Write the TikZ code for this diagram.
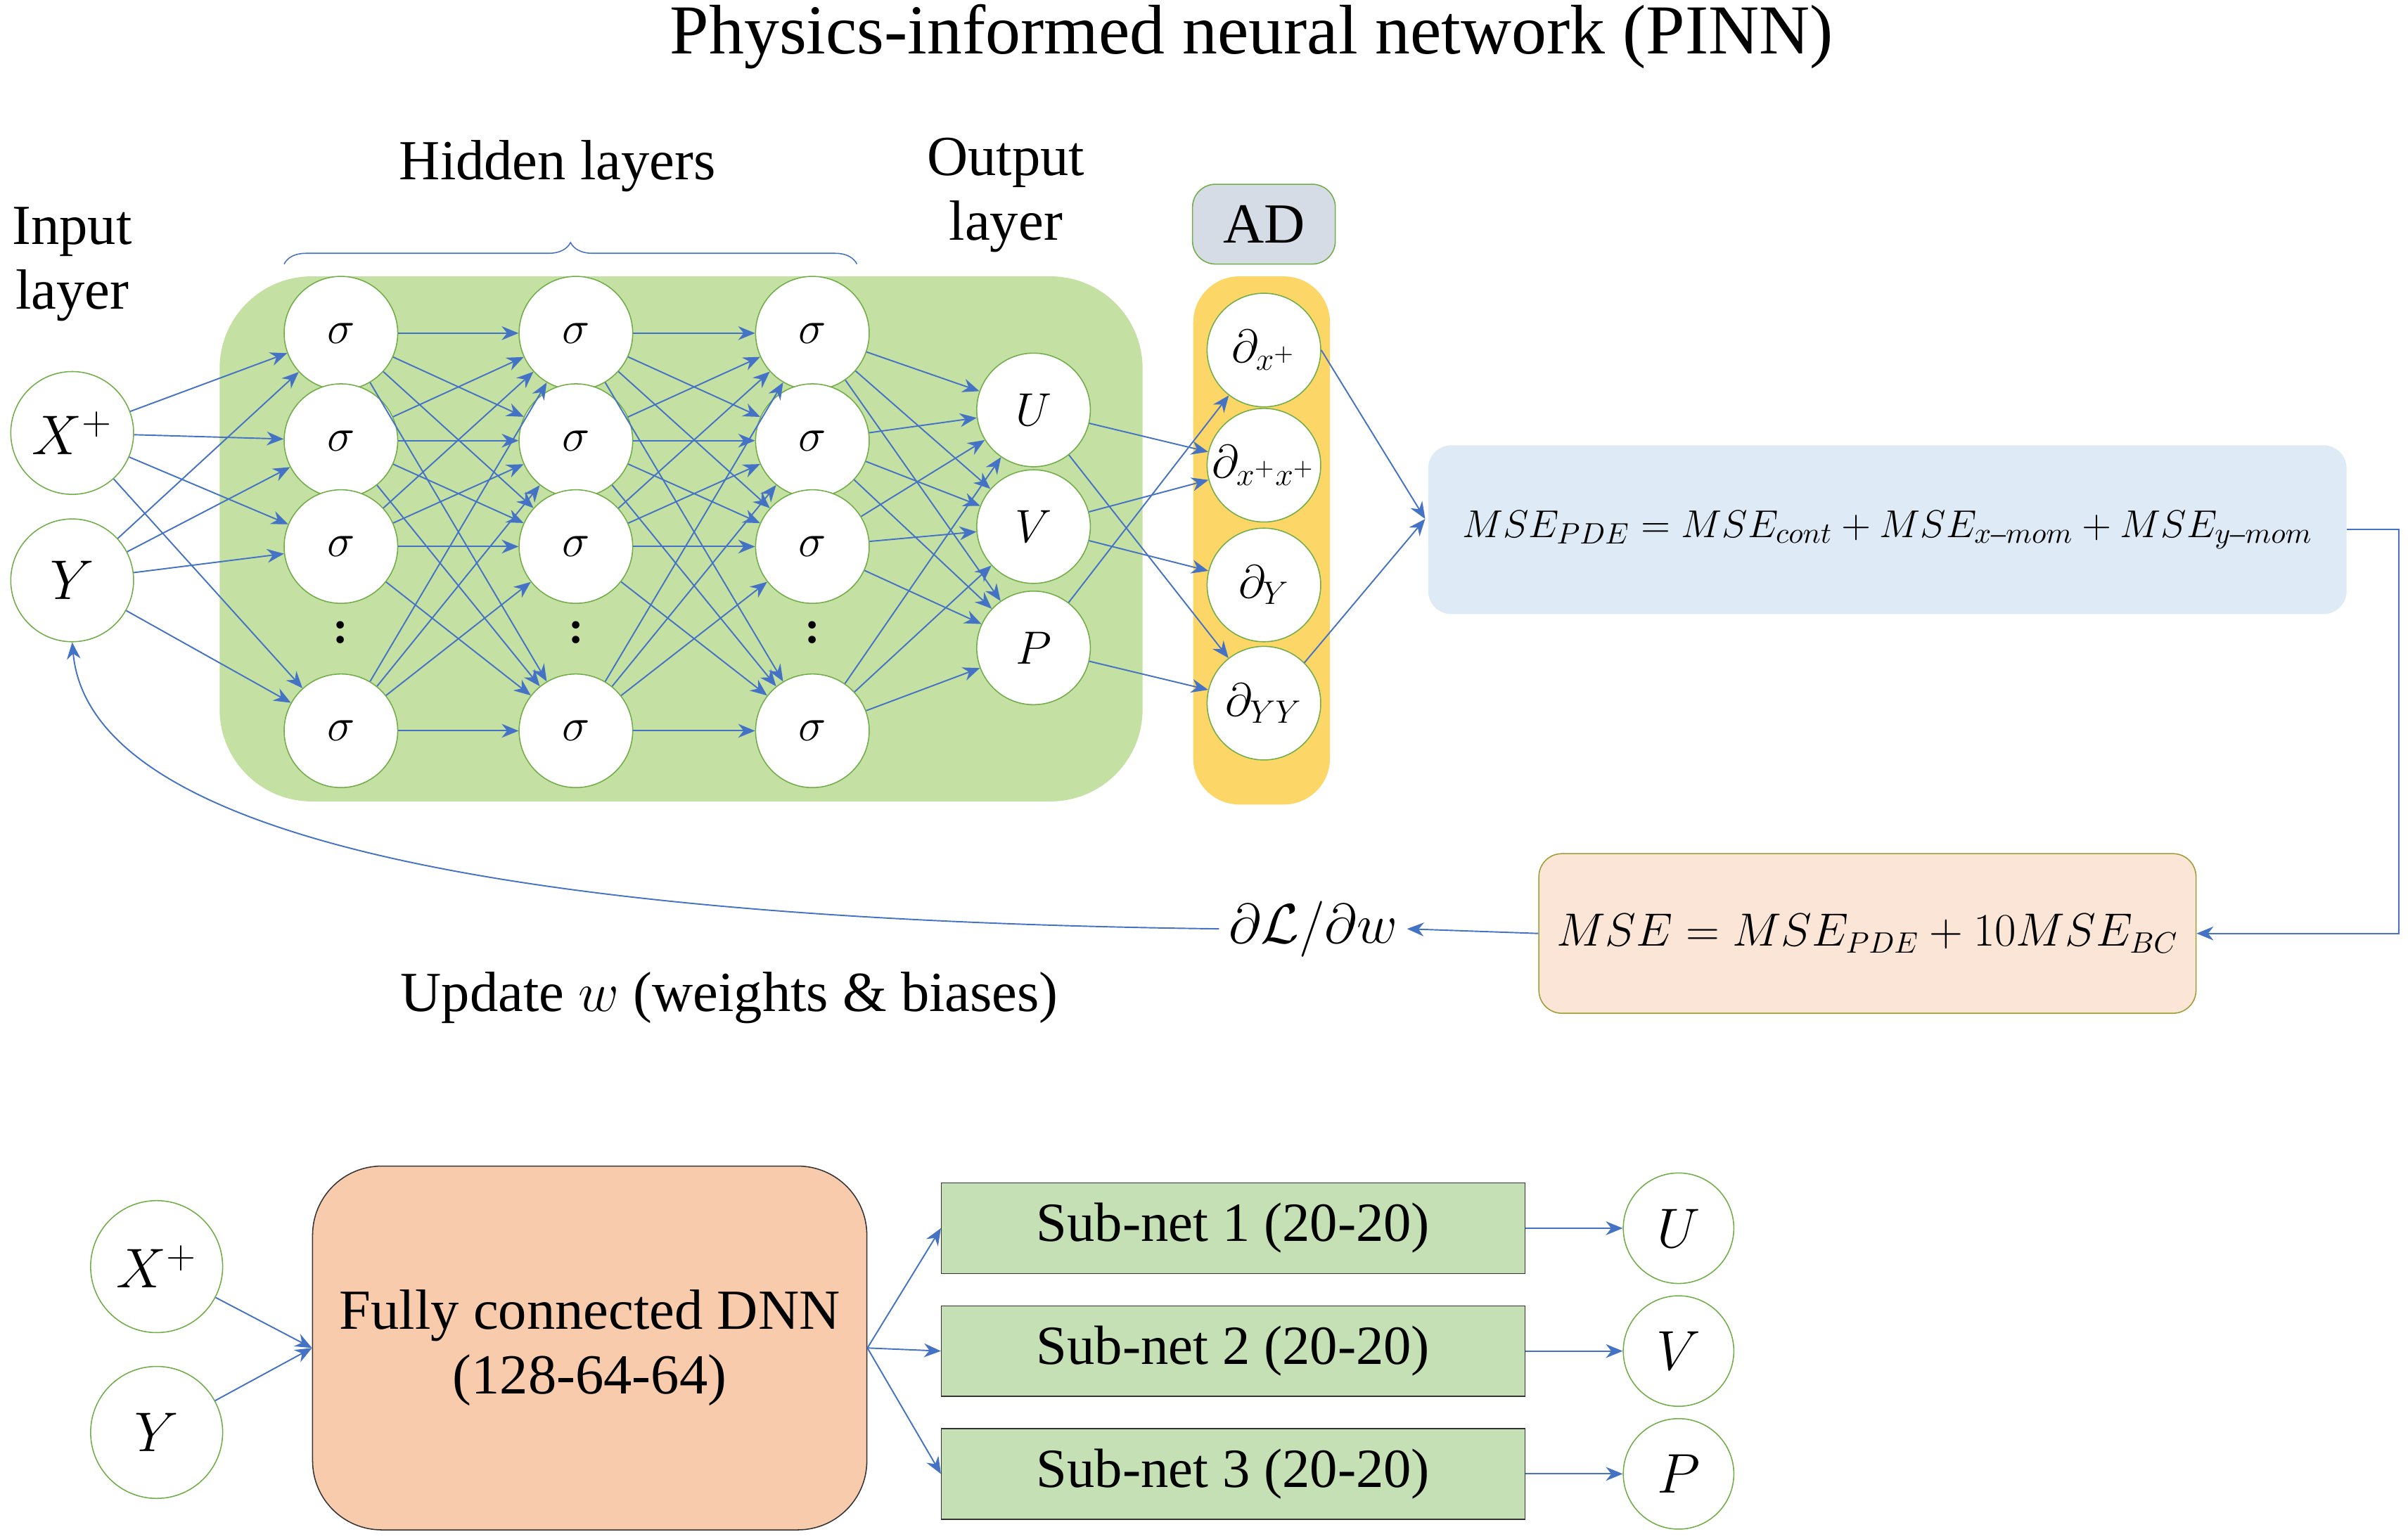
\documentclass[tikz,border=0pt]{standalone}
\usepackage{fontspec}
\setmainfont{Liberation Serif}
\usepackage{amsmath,amssymb}
\usetikzlibrary{positioning,arrows.meta,decorations.pathreplacing}
\definecolor{netgreen}{HTML}{C5E0A3}
\definecolor{adyellow}{HTML}{FDD668}
\definecolor{adgrey}{HTML}{D6DCE5}
\definecolor{pdeblue}{HTML}{DEEBF7}
\definecolor{msepeach}{HTML}{FBE5D6}
\definecolor{dnnorange}{HTML}{F8CBAD}
\definecolor{subgreen}{HTML}{C5E0B4}
\definecolor{ringgreen}{HTML}{70AD47}
\definecolor{linkblue}{HTML}{4472C4}
\tikzset{
    neuron/.style={circle, draw=ringgreen, fill=white, minimum size=1.48cm, inner sep=0pt, font=\fontsize{18}{21}\selectfont},
    bigneuron/.style={neuron, minimum size=1.6cm, font=\fontsize{20}{23}\selectfont},
    conn/.style={draw=linkblue, line width=0.5pt, -{Stealth[length=2.2mm,width=1.8mm]}},
    label/.style={font=\fontsize{21}{24}\selectfont, align=center},
    subnet/.style={draw=black!80, fill=subgreen, minimum width=7.6cm, minimum height=1.18cm, font=\fontsize{20.5}{23}\selectfont}
}
\begin{document}
\begin{tikzpicture}[x=0.02cm, y=-0.02cm]
  \useasboundingbox (0,0) rectangle (1568,1002);
  \node[font=\fontsize{26}{30}\selectfont] (title) at (815,24) {Physics-informed neural network (PINN)};

  % network background
  \fill[netgreen, rounded corners=1.2cm] (143,180) rectangle (744,522);
  \fill[adyellow, rounded corners=0.6cm] (777,180) rectangle (866,524);
  \node[draw=ringgreen, fill=adgrey, rounded corners=0.3cm, minimum width=1.86cm, minimum height=1.04cm, label] (ad) at (823,146) {AD};

  \node[label] (inlbl) at (47,172) {Input\\layer};
  \node[label] (outlbl) at (655,127) {Output\\layer};
  \node[label] (hidlbl) at (363,108) {Hidden layers};
  \draw[linkblue, decorate, decoration={brace, amplitude=8pt}] (185,172) -- (558,172);

  % input layer
  \node[bigneuron] (x) at (47,282) {$X^+$};
  \node[bigneuron] (y) at (47,378) {$Y$};

  % hidden layers
  \foreach \c/\xx in {1/222,2/375,3/529} {
    \foreach \r/\yy in {1/217,2/287,3/356,4/476}
      \node[neuron] (h\c\r) at (\xx,\yy) {$\sigma$};
    \node[font=\fontsize{17}{20}\selectfont\bfseries] (d\c) at (\xx,412) {:};
  }

  % output layer
  \node[neuron] (u) at (673,267) {$U$};
  \node[neuron] (v) at (673,343) {$V$};
  \node[neuron] (p) at (673,422) {$P$};

  % AD nodes
  \node[neuron] (dx) at (823,228) {$\partial_{x^+}$};
  \node[neuron] (dxx) at (823,303) {$\partial_{x^+x^+}$};
  \node[neuron] (dy) at (823,381) {$\partial_{Y}$};
  \node[neuron] (dyy) at (823,458) {$\partial_{YY}$};

  \foreach \i in {1,...,4} {
    \draw[conn] (x) -- (h1\i);
    \draw[conn] (y) -- (h1\i);
    \draw[conn] (h3\i) -- (u);
    \draw[conn] (h3\i) -- (v);
    \draw[conn] (h3\i) -- (p);
    \foreach \j in {1,...,4} {
      \draw[conn] (h1\i) -- (h2\j);
      \draw[conn] (h2\i) -- (h3\j);
    }
  }
  \draw[conn] (u) -- (dxx);
  \draw[conn] (u) -- (dyy);
  \draw[conn] (v) -- (dxx);
  \draw[conn] (v) -- (dy);
  \draw[conn] (p) -- (dx);
  \draw[conn] (p) -- (dyy);

  % losses
  \fill[pdeblue, rounded corners=0.3cm] (930,290) rectangle (1528,400);
  \node[font=\fontsize{15.5}{18}\selectfont] (pde) at (1229,345)
    {$MSE_{PDE} = MSE_{cont} + MSE_{x\text{–}mom} + MSE_{y\text{–}mom}$};
  \coordinate (pdein) at (928,338);
  \coordinate (pdeout) at (1528,345);
  \draw[conn] (dx.east) -- (pdein);
  \draw[conn] (dyy.north east) -- (pdein);
  \node[draw=ringgreen!70!orange, fill=msepeach, rounded corners=0.3cm, minimum width=8.56cm, minimum height=2.08cm, font=\fontsize{16}{19}\selectfont] (mse) at (1216,608)
    {$MSE = MSE_{PDE} + 10MSE_{BC}$};
  \draw[conn] (pdeout) -| (1562,345) |- (mse.east);
  \node[label] (grad) at (855,605) {$\partial\mathcal{L}/\partial w$};
  \draw[conn] (mse.west) -- (grad.east);
  \draw[conn] (grad.west) .. controls (400,600) and (60,560) .. (y.south);
  \node[label] (upd) at (475,650) {Update $w$ (weights \& biases)};

  % bottom architecture
  \node[bigneuron, minimum size=1.72cm] (bx) at (102,825) {$X^+$};
  \node[bigneuron, minimum size=1.72cm] (by) at (102,933) {$Y$};
  \node[draw=black!80, fill=dnnorange, rounded corners=0.9cm, minimum width=7.22cm, minimum height=4.74cm, label] (dnn) at (384,878) {Fully connected DNN\\(128-64-64)};
  \node[subnet] (s1) at (803,800) {Sub-net 1 (20-20)};
  \node[subnet] (s2) at (803,880) {Sub-net 2 (20-20)};
  \node[subnet] (s3) at (803,960) {Sub-net 3 (20-20)};
  \node[bigneuron, minimum size=1.44cm] (bu) at (1093,800) {$U$};
  \node[bigneuron, minimum size=1.44cm] (bv) at (1093,880) {$V$};
  \node[bigneuron, minimum size=1.44cm] (bp) at (1093,960) {$P$};
  \draw[conn] (bx) -- (dnn.west);
  \draw[conn] (by) -- (dnn.west);
  \draw[conn] (dnn.east) -- (s1.west);
  \draw[conn] (dnn.east) -- (s2.west);
  \draw[conn] (dnn.east) -- (s3.west);
  \draw[conn] (s1) -- (bu);
  \draw[conn] (s2) -- (bv);
  \draw[conn] (s3) -- (bp);
\end{tikzpicture}
\end{document}
